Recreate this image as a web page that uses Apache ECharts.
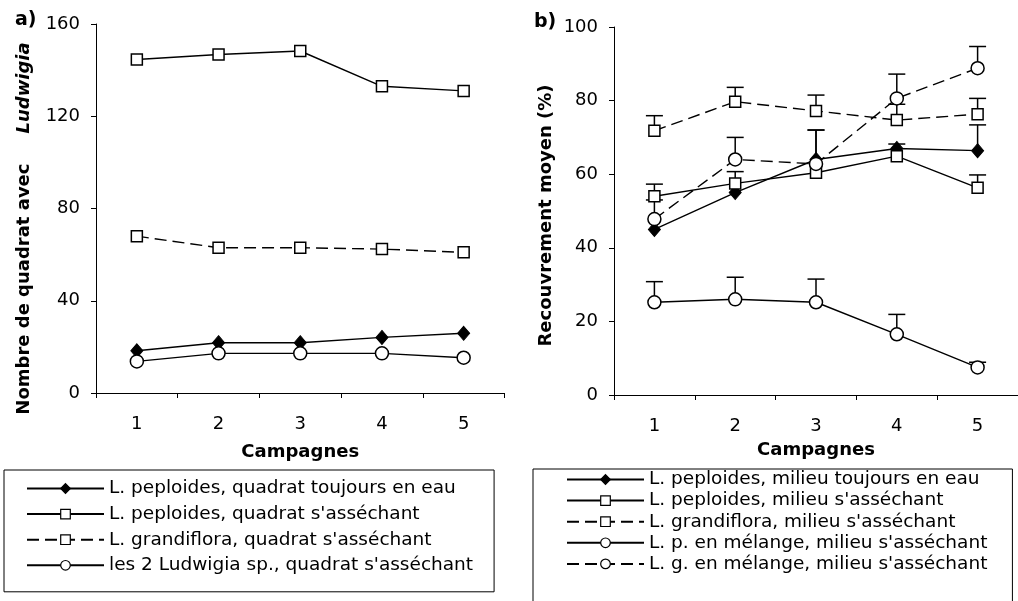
<!DOCTYPE html>
<html><head><meta charset="utf-8">
<script src="https://cdn.jsdelivr.net/npm/echarts@6/dist/echarts.min.js"></script>
<style>html,body{margin:0;padding:0;background:#fff}#c{width:1018px;height:601px}</style>
</head><body><div id="c"></div>
<script>
// ---- data ----
const categories = ['1', '2', '3', '4', '5'];
const leftTicks = [0, 40, 80, 120, 160];
const rightTicks = [0, 20, 40, 60, 80, 100];

// a) Nombre de quadrats avec Ludwigia
const aPeploidesEau = [18.3, 21.8, 21.8, 24.1, 25.9];
const aPeploidesSec = [144.6, 146.8, 148.3, 133, 131];
const aGrandifloraSec = [68, 63, 63, 62.4, 61];
const aLudwigiaSec = [13.7, 17.2, 17.2, 17.2, 15.3];

// b) Recouvrement moyen (%) and upper error bar ends
const bPeploidesEau = [45, 55, 64, 67, 66.4];
const bPeploidesEauUp = [null, null, 72, 68.2, 73.4];
const bPeploidesSec = [54, 57.5, 60.4, 64.9, 56.3];
const bPeploidesSecUp = [57.3, 60.7, null, null, 59.8];
const bGrandifloraSec = [71.8, 79.7, 77.2, 74.7, 76.3];
const bGrandifloraSecUp = [75.9, 83.6, 81.5, 79, 80.6];
const bLpMelange = [25.2, 26, 25.2, 16.5, 7.5];
const bLpMelangeUp = [30.8, 32, 31.5, 21.9, 8.9];
const bLgMelange = [47.8, 64, 62.8, 80.6, 88.8];
const bLgMelangeUp = [53, 70, 72, 87.2, 94.7];

const namesA = ['L. peploides, quadrat toujours en eau', "L. peploides, quadrat s'asséchant",
  "L. grandiflora, quadrat s'asséchant", "les 2 Ludwigia sp., quadrat s'asséchant"];
const namesB = ['L. peploides, milieu toujours en eau', "L. peploides, milieu s'asséchant",
  "L. grandiflora, milieu s'asséchant", "L. p. en mélange, milieu s'asséchant", "L. g. en mélange, milieu s'asséchant"];

// ---- chart ----
const FONT = 'DejaVu Sans';
const chart = echarts.init(document.getElementById('c'), null, { renderer: 'canvas' });

const axisLineStyle = { show: true, lineStyle: { color: '#000', width: 1 } };
const axisTick = { show: true, inside: false, length: 5, lineStyle: { color: '#000', width: 1 } };
const labelStyle = { color: '#000', fontFamily: FONT, fontSize: 18 };
const nameStyleBold = { color: '#000', fontFamily: FONT, fontSize: 18, fontWeight: 'bold' };

function xAxis(gridIndex, nameGap) {
  return {
    type: 'category', gridIndex, data: categories, boundaryGap: true,
    axisLine: axisLineStyle, axisTick: Object.assign({ alignWithLabel: false }, axisTick),
    axisLabel: Object.assign({ margin: 22 }, labelStyle),
    splitLine: { show: false },
    name: 'Campagnes', nameLocation: 'middle', nameGap, nameTextStyle: nameStyleBold
  };
}

const sym = {
  diamond: { symbol: 'diamond', symbolSize: [12, 14], itemStyle: { color: '#000', borderColor: '#000', borderWidth: 1 } },
  square: { symbol: 'rect', symbolSize: 11, itemStyle: { color: '#fff', borderColor: '#000', borderWidth: 1.5 } },
  circle: { symbol: 'circle', symbolSize: 13, itemStyle: { color: '#fff', borderColor: '#000', borderWidth: 1.5 } }
};
const DASH = [12, 6];

function lineSeries(name, data, idx, kind, dashed) {
  return Object.assign({
    type: 'line', name, data, xAxisIndex: idx, yAxisIndex: idx, z: 3,
    showAllSymbol: true, animation: false, silent: true,
    lineStyle: { color: '#000', width: 1.4, type: dashed ? DASH : 'solid' },
    emphasis: { disabled: true }
  }, JSON.parse(JSON.stringify(sym[kind])));
}

function errRender(params, api) {
  const x = api.value(0), v = api.value(1), u = api.value(2);
  if (u == null || isNaN(u)) return null;
  const p0 = api.coord([x, v]);
  const p1 = api.coord([x, u]);
  const w = 8.5;
  const st = { stroke: '#000', lineWidth: 1.5 };
  return {
    type: 'group', children: [
      { type: 'line', shape: { x1: p0[0], y1: p0[1], x2: p1[0], y2: p1[1] }, style: st },
      { type: 'line', shape: { x1: p1[0] - w, y1: p1[1], x2: p1[0] + w, y2: p1[1] }, style: st }
    ]
  };
}
function errSeries(vals, ups) {
  return {
    type: 'custom', xAxisIndex: 1, yAxisIndex: 1, z: 2, silent: true, animation: false,
    renderItem: errRender, encode: { x: 0, y: [1, 2] },
    data: categories.map((c, i) => [i, vals[i], ups[i] == null ? '-' : ups[i]])
  };
}

const legendText = { color: '#000', fontFamily: FONT, fontSize: 18.5, lineHeight: 18 };
const legendItemStyle = { borderWidth: 1.2 };

const option = {
  backgroundColor: '#fff',
  animation: false,
  title: [
    { text: 'a)', left: 10, top: 6, textStyle: { color: '#000', fontFamily: FONT, fontSize: 19, fontWeight: 'bold' } },
    { text: 'b)', left: 529, top: 8, textStyle: { color: '#000', fontFamily: FONT, fontSize: 19, fontWeight: 'bold' } }
  ],
  grid: [
    { left: 96, top: 24, width: 408.5, height: 369 },
    { left: 614, top: 27, width: 413, height: 368 }
  ],
  xAxis: [xAxis(0, 50), xAxis(1, 46)],
  yAxis: [
    {
      type: 'value', gridIndex: 0, min: 0, max: 160, interval: 40,
      axisLine: axisLineStyle, axisTick, splitLine: { show: false },
      axisLabel: Object.assign({ margin: 16 }, labelStyle),
      name: '{n|Nombre de quadrat avec}{i|Ludwigia}', nameLocation: 'middle', nameGap: 63, nameRotate: 90,
      nameTextStyle: {
        padding: [0, 40, 0, 0],
        rich: {
          n: { color: '#000', fontFamily: FONT, fontSize: 18, fontWeight: 'bold' },
          i: { color: '#000', fontFamily: FONT, fontSize: 18, fontWeight: 'bold', fontStyle: 'italic', padding: [0, 0, 0, 30] }
        }
      }
    },
    {
      type: 'value', gridIndex: 1, min: 0, max: 100, interval: 20,
      axisLine: axisLineStyle, axisTick, splitLine: { show: false },
      axisLabel: Object.assign({ margin: 16 }, labelStyle),
      name: 'Recouvrement moyen (%)', nameLocation: 'middle', nameGap: 59, nameRotate: 90,
      nameTextStyle: Object.assign({ padding: [0, 9, 0, 0] }, nameStyleBold)
    }
  ],
  legend: [
    {
      data: namesA, orient: 'vertical', left: 4, top: 470, height: 300,
      itemWidth: 77, itemHeight: 12, itemGap: 6.6, itemStyle: legendItemStyle,
      padding: [9, 21, 17, 22], borderColor: '#000', borderWidth: 1,
      textStyle: legendText, selectedMode: false
    },
    {
      data: namesB, orient: 'vertical', left: 533, top: 469, height: 300,
      itemWidth: 77, itemHeight: 12, itemGap: 2.1, itemStyle: legendItemStyle,
      padding: [1, 25, 40, 33], borderColor: '#000', borderWidth: 1,
      textStyle: legendText, selectedMode: false
    }
  ],
  series: [
    lineSeries(namesA[0], aPeploidesEau, 0, 'diamond', false),
    lineSeries(namesA[1], aPeploidesSec, 0, 'square', false),
    lineSeries(namesA[2], aGrandifloraSec, 0, 'square', true),
    lineSeries(namesA[3], aLudwigiaSec, 0, 'circle', false),

    errSeries(bPeploidesEau, bPeploidesEauUp),
    errSeries(bPeploidesSec, bPeploidesSecUp),
    errSeries(bGrandifloraSec, bGrandifloraSecUp),
    errSeries(bLpMelange, bLpMelangeUp),
    errSeries(bLgMelange, bLgMelangeUp),

    lineSeries(namesB[0], bPeploidesEau, 1, 'diamond', false),
    lineSeries(namesB[1], bPeploidesSec, 1, 'square', false),
    lineSeries(namesB[2], bGrandifloraSec, 1, 'square', true),
    lineSeries(namesB[3], bLpMelange, 1, 'circle', false),
    lineSeries(namesB[4], bLgMelange, 1, 'circle', true)
  ]
};
chart.setOption(option);
</script>
</body></html>
